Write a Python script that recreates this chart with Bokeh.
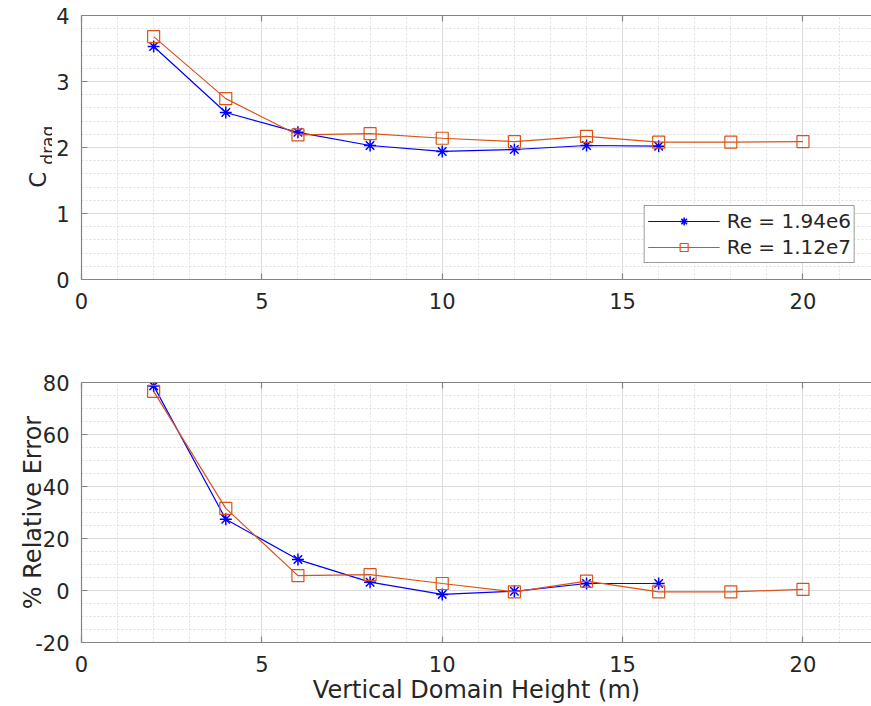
import math
from bokeh.plotting import figure
from bokeh.layouts import column, row
from bokeh.models import (SingleIntervalTicker, Label, Range1d, Legend, PrintfTickFormatter, LinearAxis)
from bokeh.embed import file_html
from bokeh.resources import INLINE

# ---- data ----
x_re1 = [2, 4, 6, 8, 10, 12, 14, 16]
x_re2 = [2, 4, 6, 8, 10, 12, 14, 16, 18, 20]
cdrag_re1 = [3.53, 2.53, 2.23, 2.03, 1.94, 1.97, 2.03, 2.02]
cdrag_re2 = [3.68, 2.74, 2.19, 2.21, 2.14, 2.09, 2.17, 2.08, 2.08, 2.09]
err_re1 = [78.7, 27.4, 11.9, 3.2, -1.5, -0.3, 2.7, 2.7]
err_re2 = [76.6, 31.6, 5.7, 6.1, 2.7, -0.5, 3.6, -0.5, -0.5, 0.4]
label_re1 = "Re = 1.94e6"
label_re2 = "Re = 1.12e7"
x_label = "Vertical Domain Height (m)"
y_label_bottom = "% Relative Error"

BLUE = "#0000FF"
ORANGE = "#D95319"
FONT = "DejaVu Sans"
FRAME = "#858585"
TXT = "#262626"


def style(p, y_interval, y_minor):
    p.outline_line_color = None
    p.background_fill_color = "white"
    p.border_fill_color = "white"
    xt = SingleIntervalTicker(interval=5, num_minor_ticks=5)
    yt = SingleIntervalTicker(interval=y_interval, num_minor_ticks=y_minor)
    xax = p.below[0]
    yax = p.left[0]
    xax.ticker = xt
    yax.ticker = yt
    p.xgrid.ticker = xt
    p.ygrid.ticker = yt
    for ax in (xax, yax):
        ax.formatter = PrintfTickFormatter(format="%d")
        ax.axis_line_color = FRAME
        ax.axis_line_width = 1.2
        ax.major_tick_line_color = FRAME
        ax.major_tick_line_width = 1.2
        ax.major_tick_in = 6
        ax.major_tick_out = 0
        ax.minor_tick_line_color = None
        ax.major_label_standoff = 8
        ax.major_label_text_font = FONT
        ax.major_label_text_font_size = "21px"
        ax.major_label_text_color = TXT
        ax.axis_label_text_font = FONT
        ax.axis_label_text_font_size = "24px"
        ax.axis_label_text_font_style = "normal"
        ax.axis_label_text_color = TXT
    xax.major_label_standoff = 9
    for g in (p.xgrid[0], p.ygrid[0]):
        g.grid_line_color = "#dcdcdc"
        g.grid_line_width = 1
        g.minor_grid_line_color = "#e0e0e0"
        g.minor_grid_line_dash = "2 2"
        g.minor_grid_line_width = 1
    top = LinearAxis(ticker=SingleIntervalTicker(interval=5, num_minor_ticks=0),
                     major_label_text_font_size="0px", major_label_standoff=0,
                     major_tick_in=6, major_tick_out=0, major_tick_line_color=FRAME,
                     major_tick_line_width=1.2, minor_tick_line_color=None,
                     axis_line_color=FRAME, axis_line_width=1.2)
    p.add_layout(top, "above")
    return xax, yax


# ---- label strip for C_drag (same vertical data range as the top chart) ----
lf = figure(width=52, height=330, x_range=Range1d(0, 52), y_range=Range1d(0, 4),
            x_axis_type=None, y_axis_type=None, output_backend="svg", toolbar_location=None,
            min_border_left=0, min_border_right=0, min_border_top=15, min_border_bottom=51)
lf.outline_line_color = None
lf.add_layout(Label(x=37, y=1.39, text="C", angle=math.pi / 2,
                    text_font=FONT, text_font_size="23px", text_color=TXT,
                    text_align="left", text_baseline="alphabetic"))
lf.add_layout(Label(x=47, y=1.74, text="drag", angle=math.pi / 2,
                    text_font=FONT, text_font_size="17px", text_color=TXT,
                    text_align="left", text_baseline="alphabetic"))

# ---- top figure ----
p1 = figure(width=819, height=330, x_range=Range1d(0, 21.9), y_range=Range1d(0, 4),
            output_backend="svg", toolbar_location=None,
            min_border_left=29, min_border_right=0, min_border_top=15, min_border_bottom=51)
xax1, yax1 = style(p1, 1, 5)
yax1.axis_label_standoff = 0
l1 = p1.line(x_re1, cdrag_re1, line_color=BLUE, line_width=1.2)
m1 = p1.scatter(x_re1, cdrag_re1, marker="asterisk", size=12, line_color=BLUE, line_width=1.5)
l2 = p1.line(x_re2, cdrag_re2, line_color=ORANGE, line_width=1.2)
m2 = p1.scatter(x_re2, cdrag_re2, marker="square", size=12, line_color=ORANGE, fill_color=None, line_width=1.2)

legend = Legend(items=[(label_re1, [l1, m1]), (label_re2, [l2, m2])], location="bottom_right")
legend.label_text_font = FONT
legend.label_text_font_size = "20px"
legend.label_text_color = TXT
legend.glyph_width = 72
legend.glyph_height = 20
legend.label_height = 20
legend.label_standoff = 7
legend.spacing = 2
legend.padding = 3
legend.margin = 16
legend.border_line_color = "#3a3a3a"
legend.border_line_width = 1
legend.background_fill_color = "white"
legend.background_fill_alpha = 1
p1.add_layout(legend)

# ---- bottom figure ----
p2 = figure(width=871, height=376, x_range=Range1d(0, 21.9), y_range=Range1d(-20, 80),
            output_backend="svg", toolbar_location=None,
            min_border_left=81, min_border_right=0, min_border_top=52, min_border_bottom=63)
xax2, yax2 = style(p2, 20, 4)
p2.line(x_re1, err_re1, line_color=BLUE, line_width=1.2)
p2.scatter(x_re1, err_re1, marker="asterisk", size=12, line_color=BLUE, line_width=1.5)
p2.line(x_re2, err_re2, line_color=ORANGE, line_width=1.2)
p2.scatter(x_re2, err_re2, marker="square", size=12, line_color=ORANGE, fill_color=None, line_width=1.2)
xax2.axis_label = x_label
yax2.axis_label = y_label_bottom
xax2.axis_label_standoff = 1
yax2.axis_label_standoff = -15

layout = column(row(lf, p1, spacing=0), p2, spacing=0)
open("out.html", "w").write(file_html(layout, INLINE))
